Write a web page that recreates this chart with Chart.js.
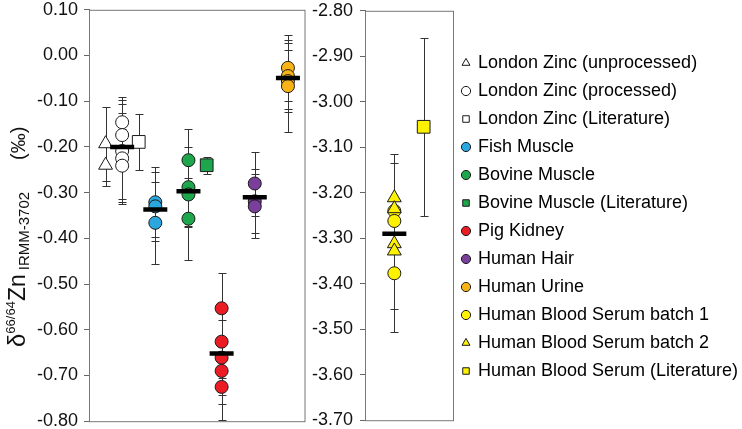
<!DOCTYPE html>
<html>
<head>
<meta charset="utf-8">
<script src="https://cdn.jsdelivr.net/npm/chart.js@4.4.1/dist/chart.umd.min.js"></script>
<style>
  body { margin: 0; background: #fff; }
  #wrap { position: relative; width: 742px; height: 429px; overflow: hidden; }
  canvas { position: absolute; top: -7px; }
</style>
</head>
<body>
<div id="wrap">
  <canvas id="leftPanel" width="321" height="445" style="left:0"></canvas>
  <canvas id="rightPanel" width="434" height="445" style="left:308px"></canvas>
</div>
<script>
// --- values (delta 66/64 Zn, per mil; errors are 2SD) ---
const lzUnprocY   = [-0.193, -0.240];
const lzUnprocErr = [0.081, 0.046];
const lzProcY     = [-0.146, -0.174, -0.209, -0.225, -0.241];
const lzProcErr   = [0.056, 0.077, 0.104, 0.100, 0.080];
const lzLitY      = [-0.189];
const lzLitErr    = [0.061];
const fishY       = [-0.321, -0.330, -0.366];
const fishErr     = [0.077, 0.075, 0.090];
const bovY        = [-0.229, -0.288, -0.304, -0.357];
const bovErr      = [0.069, 0.087, 0.070, 0.090];
const bovLitY     = [-0.240];
const bovLitErr   = [0.019];
const pigY        = [-0.553, -0.626, -0.661, -0.690, -0.725];
const pigErr      = [0.078, 0.080, 0.082, 0.073, 0.073];
const hairY       = [-0.280, -0.319, -0.330];
const hairErr     = [0.070, 0.070, 0.070];
const urineY      = [-0.027, -0.045, -0.056, -0.067];
const urineErr    = [0.072, 0.072, 0.067, 0.100];
const leftMeans   = [-0.200, -0.337, -0.297, -0.652, -0.310, -0.049];

const serum1Y     = [-3.240, -3.262, -3.377];
const serum2Y     = [-3.211, -3.235, -3.312, -3.328];
const serumLitY   = [-3.055];
const serumLitErr = [0.196];
const serumMean   = [-3.290];
const serumBarY   = [-3.310, -3.295];
const serumBarErr = [0.196, 0.160];

const leftTicks  = { min: -0.80, max: 0.10, step: 0.10 };
const rightTicks = { min: -3.70, max: -2.80, step: 0.10 };

const legendNames = [
  'London Zinc (unprocessed)', 'London Zinc (processed)', 'London Zinc (Literature)',
  'Fish Muscle', 'Bovine Muscle', 'Bovine Muscle (Literature)', 'Pig Kidney',
  'Human Hair', 'Human Urine', 'Human Blood Serum batch 1',
  'Human Blood Serum batch 2', 'Human Blood Serum (Literature)'
];

// --- styling ---
const FONT = "'Liberation Sans', Arial, sans-serif";
const WHITE = '#ffffff', BLUE = '#2aa7df', GREEN = '#1ea64d', RED = '#ec1c24',
      PURPLE = '#7a3f9a', ORANGE = '#f8b417', YELLOW = '#fff200';
const legendStyles = ['triangle', 'circle', 'rect', 'circle', 'circle', 'rect',
                      'circle', 'circle', 'circle', 'circle', 'triangle', 'rect'];
const legendColors = [WHITE, WHITE, WHITE, BLUE, GREEN, GREEN, RED, PURPLE, ORANGE,
                      YELLOW, YELLOW, YELLOW];

Chart.defaults.font.family = FONT;
Chart.defaults.color = '#111';

function series(x, ys, errs, style, fill, radius, order) {
  return {
    data: ys.map(v => ({ x: x, y: v })),
    errors: errs,
    pointStyle: style,
    pointRadius: radius,
    pointHoverRadius: radius,
    backgroundColor: fill,
    borderColor: '#1a1a1a',
    borderWidth: 1,
    order: order || 2
  };
}

function meanSeries(xs, ys) {
  return {
    data: ys.map((v, i) => ({ x: xs[i], y: v })),
    pointStyle: 'line',
    pointRadius: 12,
    pointHoverRadius: 12,
    borderColor: '#000',
    borderWidth: 4.5,
    order: 0
  };
}

// error bars behind the markers, frame round the plot area
const errorBars = {
  id: 'errorBars',
  beforeDatasetsDraw(chart) {
    const { ctx, chartArea: a, scales: { y } } = chart;
    ctx.save();
    ctx.strokeStyle = '#777';
    ctx.lineWidth = 1;
    ctx.strokeRect(a.left + 0.5, a.top + 0.5, a.right - a.left, a.bottom - a.top);
    ctx.strokeStyle = '#333';
    chart.data.datasets.forEach((ds, i) => {
      if (!ds.errors) return;
      const meta = chart.getDatasetMeta(i);
      meta.data.forEach((pt, j) => {
        const v = ds.data[j].y, e = ds.errors[j];
        const top = Math.round(y.getPixelForValue(v + e)) + 0.5;
        const bot = Math.round(y.getPixelForValue(v - e)) + 0.5;
        const x = Math.round(pt.x) + 0.5;
        ctx.beginPath();
        ctx.moveTo(x, top); ctx.lineTo(x, bot);
        ctx.moveTo(x - 4, top); ctx.lineTo(x + 4, top);
        ctx.moveTo(x - 4, bot); ctx.lineTo(x + 4, bot);
        ctx.stroke();
      });
    });
    ctx.restore();
  }
};

// rotated y-axis title with super- and subscript: [text, size, shift, gap before]
const titleParts = [['δ', 24, 0, 0], ['66/64', 13, -10, 0], ['Zn', 23, 0, 0],
                    ['IRMM-3702', 15, 4, 4], ['(‰)', 20, 0, 32]];
const axisTitle = {
  id: 'axisTitle',
  afterDraw(chart) {
    const ctx = chart.ctx;
    ctx.save();
    ctx.translate(25, 354);
    ctx.rotate(-Math.PI / 2);
    ctx.fillStyle = '#111';
    ctx.textBaseline = 'alphabetic';
    let x = 0;
    titleParts.forEach(([txt, size, dy, gap]) => {
      x += gap;
      ctx.font = size + 'px ' + FONT;
      ctx.fillText(txt, x, dy);
      x += ctx.measureText(txt).width;
    });
    ctx.restore();
  }
};

function yAxis(t, width, pad) {
  return {
    min: t.min, max: t.max,
    ticks: {
      stepSize: t.step,
      padding: pad,
      color: '#111',
      font: { size: 18 },
      callback: v => (Math.abs(v) < 1e-9 ? 0 : v).toFixed(2)
    },
    grid: { drawOnChartArea: false, tickLength: 5, color: '#666' },
    border: { color: '#666' },
    afterFit: s => { s.width = width; }
  };
}

const common = {
  responsive: false,
  animation: false,
  events: [],
  showLine: false
};

new Chart(document.getElementById('leftPanel'), {
  type: 'scatter',
  data: {
    datasets: [
      meanSeries([2, 4, 6, 8, 10, 12], leftMeans),
      series(1, lzUnprocY, lzUnprocErr, 'triangle', WHITE, 8),
      series(2, lzProcY, lzProcErr, 'circle', WHITE, 6.5),
      series(3, lzLitY, lzLitErr, 'rect', WHITE, 9),
      series(4, fishY, fishErr, 'circle', BLUE, 6.5),
      series(6, bovY, bovErr, 'circle', GREEN, 6.5),
      series(7.1, bovLitY, bovLitErr, 'rect', GREEN, 9),
      series(8, pigY, pigErr, 'circle', RED, 6.5),
      series(10, hairY, hairErr, 'circle', PURPLE, 6.5),
      series(12, urineY, urineErr, 'circle', ORANGE, 6.5)
    ]
  },
  options: Object.assign({}, common, {
    layout: { padding: { top: 3, bottom: 0, right: 4, left: 0 } },
    scales: {
      x: { type: 'linear', min: 0, max: 13, display: false },
      y: yAxis(leftTicks, 89, 6)
    },
    plugins: { legend: { display: false }, tooltip: { enabled: false } }
  }),
  plugins: [errorBars, axisTitle]
});

new Chart(document.getElementById('rightPanel'), {
  type: 'scatter',
  data: {
    datasets: [
      meanSeries([1], serumMean),
      series(1, serum2Y, null, 'triangle', YELLOW, 8, 1),
      series(1, serum1Y, null, 'circle', YELLOW, 6.5),
      series(2, serumLitY, serumLitErr, 'rect', YELLOW, 9),
      Object.assign(series(1, serumBarY, serumBarErr, 'circle', 'transparent', 0), { borderWidth: 0 })
    ]
  },
  options: Object.assign({}, common, {
    layout: { padding: { top: 3, bottom: 0, right: 0, left: 0 } },
    scales: {
      x: { type: 'linear', min: 0, max: 3, display: false },
      y: yAxis(rightTicks, 57, 7)
    },
    plugins: {
      tooltip: { enabled: false },
      legend: {
        position: 'right',
        maxWidth: 289,
        labels: {
          usePointStyle: true,
          boxWidth: 6,
          boxHeight: 6.5,
          padding: 10,
          color: '#111',
          font: { size: 18 },
          generateLabels: () => legendNames.map((name, i) => ({
            text: name,
            pointStyle: legendStyles[i],
            fillStyle: legendColors[i],
            strokeStyle: '#1a1a1a',
            lineWidth: 1,
            hidden: false,
            datasetIndex: 0
          }))
        }
      }
    }
  }),
  plugins: [errorBars]
});
</script>
</body>
</html>
